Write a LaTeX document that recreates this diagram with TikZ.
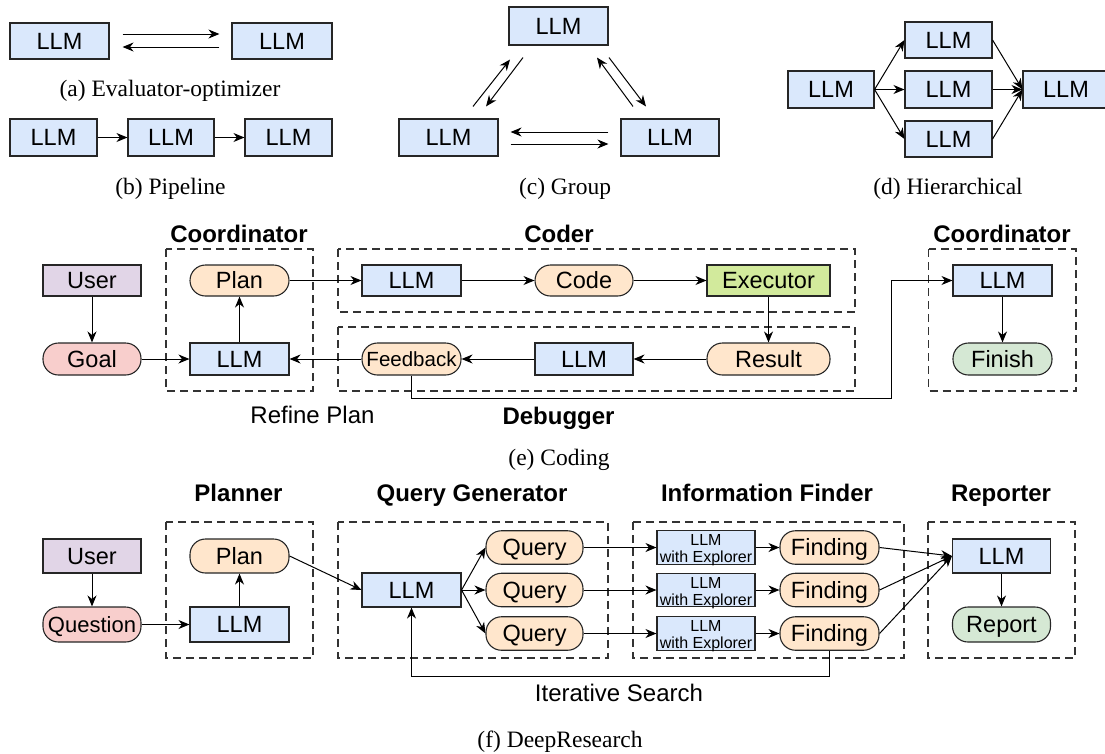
\documentclass[tikz,border=0pt]{standalone}
\usepackage{fontspec}
\setmainfont{Liberation Serif}
\setsansfont{Liberation Sans}
\usetikzlibrary{arrows.meta}
\definecolor{llmblue}{HTML}{DAE8FC}
\definecolor{flow}{HTML}{FFE6CC}
\definecolor{usr}{HTML}{E1D5E7}
\definecolor{goal}{HTML}{F8CECC}
\definecolor{exec}{HTML}{D2EA9C}
\definecolor{done}{HTML}{D5E8D4}

\begin{document}
\begin{tikzpicture}[x=1pt,y=-1pt]
                \tikzset{box/.style={draw=black!85, line width=1.1pt, inner sep=0pt,
                text height=16.8pt, text depth=0pt, font=\fontsize{23.5}{26}\sffamily},
                llm/.style={box, fill=llmblue}, pill/.style={box, fill=flow, rounded corners=15.5pt},
                sz/.style 2 args={minimum width=#1pt, minimum height=#2pt},
                arr/.style={-{Stealth[length=11pt,width=9pt,inset=3.5pt]}, line width=1pt},
                grp/.style={draw=black!80, line width=1.1pt, dash pattern=on 8pt off 5pt},
                head/.style={inner sep=0pt, text height=17.2pt, text depth=0pt, font=\fontsize{24}{26}\sffamily\bfseries},
                note/.style={inner sep=0pt, text height=17.2pt, text depth=0pt, font=\fontsize{24}{26}\sffamily},
                subcap/.style={inner sep=0pt, text height=15.6pt, text depth=0pt, font=\fontsize{23.5}{26}\selectfont}}

                \useasboundingbox (0,0) rectangle (1105,753);

                \node[llm, sz={99}{36}] (ea) at (59.5,41) {LLM};
                \node[llm, sz={100}{36}] (eb) at (282,41) {LLM};
                \draw[arr, shorten <=13pt, shorten >=12pt] ([yshift=7pt]ea.east) -- ([yshift=7pt]eb.west);
                \draw[arr, shorten <=12pt, shorten >=13pt] ([yshift=-6pt]eb.west) -- ([yshift=-6pt]ea.east);
                \node[subcap] (capa) at (170,89) {(a) Evaluator-optimizer};

                \node[llm, sz={87}{37}] (pa) at (53.5,137.5) {LLM};
                \node[llm, sz={86}{37}] (pb) at (171,137.5) {LLM};
                \node[llm, sz={87}{37}] (pc) at (288.5,137.5) {LLM};
                \draw[arr] (pa) -- (pb);
                \draw[arr] (pb) -- (pc);
                \node[subcap] (capb) at (170.5,187) {(b) Pipeline};

                \node[llm, sz={99}{38}] (gt) at (558.5,26) {LLM};
                \node[llm, sz={99}{37}] (gl) at (448.5,137.5) {LLM};
                \node[llm, sz={98}{37}] (gr) at (670,137.5) {LLM};
                \draw[arr, shorten <=12pt, shorten >=12pt] ([yshift=5.5pt]gr.west) -- ([yshift=5.5pt]gl.east);
                \draw[arr, shorten <=12pt, shorten >=12pt] ([yshift=-6.5pt]gl.east) -- ([yshift=-6.5pt]gr.west);
                \draw[arr] ([shift={(24.5,-12)}]gl.north) -- ([shift={(-48.5,14)}]gt.south);
                \draw[arr] ([shift={(-35.5,12)}]gt.south) -- ([shift={(37.5,-12)}]gl.north);
                \draw[arr] ([shift={(-37,-12)}]gr.north) -- ([shift={(38.5,12)}]gt.south);
                \draw[arr] ([shift={(50.5,12)}]gt.south) -- ([shift={(-24,-12)}]gr.north);
                \node[subcap] (capc) at (565,187) {(c) Group};

                \node[llm, sz={86}{37}] (hl) at (831,89.5) {LLM};
                \node[llm, sz={87}{36}] (h1) at (948.5,40) {LLM};
                \node[llm, sz={87}{37}] (h2) at (948.5,89.5) {LLM};
                \node[llm, sz={87}{36}] (h3) at (948.5,139) {LLM};
                \node[llm, sz={86}{37}] (hr) at (1066,89.5) {LLM};
                \foreach \m in {h1,h2,h3} {
                \draw[arr] (hl.east) -- (\m.west);
                \draw[arr] (\m.east) -- (hr.west);
                }
                \node[subcap] (capd) at (948,187) {(d) Hierarchical};

                \draw[grp] (166,249) rectangle (313,391);
                \draw[grp] (338,249) rectangle (855,312);
                \draw[grp] (338,327) rectangle (855,391);
                \draw[grp] (928.5,249) rectangle (1076,391);
                \node[head] (hco) at (239,234) {Coordinator};
                \node[head] (hcd) at (559,234) {Coder};
                \node[head] (hcf) at (1002,234) {Coordinator};
                \node[head] (hdb) at (558.5,416) {Debugger};
                \node[note] (refine) at (312.5,415) {Refine Plan};

                \node[box, fill=usr, sz={98}{31}] (eu) at (92,280.5) {User};
                \node[pill, fill=goal, sz={98}{32}] (eg) at (92,359) {Goal};
                \node[pill, sz={99}{31}] (ep) at (239.5,280.5) {Plan};
                \node[llm, sz={99}{32}] (ec) at (239.5,359) {LLM};
                \node[llm, sz={99}{31}] (ek) at (411.5,280.5) {LLM};
                \node[pill, sz={98}{31}] (ecode) at (584,280.5) {Code};
                \node[box, fill=exec, sz={123}{31}] (ex) at (768.5,280.5) {Executor};
                \node[pill, sz={123}{32}] (er) at (768.5,359) {Result};
                \node[llm, sz={98}{32}] (ed) at (584,359) {LLM};
                \node[pill, sz={99}{32}, text height=14.7pt, font=\fontsize{20.5}{22}\sffamily] (ef) at (411.5,359) {Feedback};
                \node[llm, sz={99}{31}] (efl) at (1002.5,280.5) {LLM};
                \node[pill, fill=done, sz={99}{32}] (efin) at (1002.5,359) {Finish};
                \coordinate (turn) at (891,398);

                \draw[arr] (eu) -- (eg);
                \draw[arr] (eg) -- (ec);
                \draw[arr] (ec) -- (ep);
                \draw[arr] (ep) -- (ek);
                \draw[arr] (ek) -- (ecode);
                \draw[arr] (ecode) -- (ex);
                \draw[arr] (ex) -- (er);
                \draw[arr] (er) -- (ed);
                \draw[arr] (ed) -- (ef);
                \draw[arr] (ef) -- (ec);
                \draw[arr] (ef.south) |- (turn) |- (efl.west);
                \draw[arr] (efl) -- (efin);
                \node[subcap] (cape) at (559,458) {(e) Coding};

                \draw[grp] (166,522) rectangle (313,658);
                \draw[grp] (338,522) rectangle (608,658);
                \draw[grp] (633,522) rectangle (904,658);
                \draw[grp] (928,522) rectangle (1075,658);
                \node[head] (hpl) at (238.5,493) {Planner};
                \node[head] (hqg) at (472,493) {Query Generator};
                \node[head] (hif) at (767,493) {Information Finder};
                \node[head] (hrp) at (1001,493) {Reporter};
                \node[note] (iter) at (619,693) {Iterative Search};

                \node[box, fill=usr, sz={98}{34}] (fu) at (92,556) {User};
                \node[pill, fill=goal, sz={98}{35}, text height=15.8pt, font=\fontsize{22}{24}\sffamily] (fq) at (92,624.5) {Question};
                \node[pill, sz={99}{34}] (fp) at (239.5,556) {Plan};
                \node[llm, sz={99}{35}] (fl) at (239.5,624.5) {LLM};
                \node[llm, sz={99}{34}] (ql) at (411.5,590) {LLM};
                \node[llm, sz={98}{34}] (rl) at (1001.5,556) {LLM};
                \node[pill, fill=done, sz={98}{35}] (rep) at (1001.5,624.5) {Report};
                \foreach \i/\y in {1/547.5,2/590,3/633.5} {
                \node[pill, sz={97}{33.5}] (q\i) at (534.5,\y) {Query};
                \node[llm, sz={98}{33.5}, align=center, text height=30pt, text depth=0pt,
                font=\fontsize{16}{17}\sffamily] (x\i) at (706,\y) {LLM\\with Explorer};
                \node[pill, sz={99}{33.5}] (f\i) at (829.5,\y) {Finding};
                \draw[arr] (ql.east) -- (q\i.west);
                \draw[arr] (q\i) -- (x\i);
                \draw[arr] (x\i) -- (f\i);
                \draw[arr] (f\i.east) -- (rl.west);
                }

                \draw[arr] (fu) -- (fq);
                \draw[arr] (fq) -- (fl);
                \draw[arr] (fl) -- (fp);
                \draw[arr] (fp.east) -- (ql.west);
                \draw[arr] (rl) -- (rep);
                \draw[arr] (f3.south) -- ++(0,26) -| (ql.south);
                \node[subcap] (capf) at (560,740) {(f) DeepResearch};
\end{tikzpicture}
\end{document}
